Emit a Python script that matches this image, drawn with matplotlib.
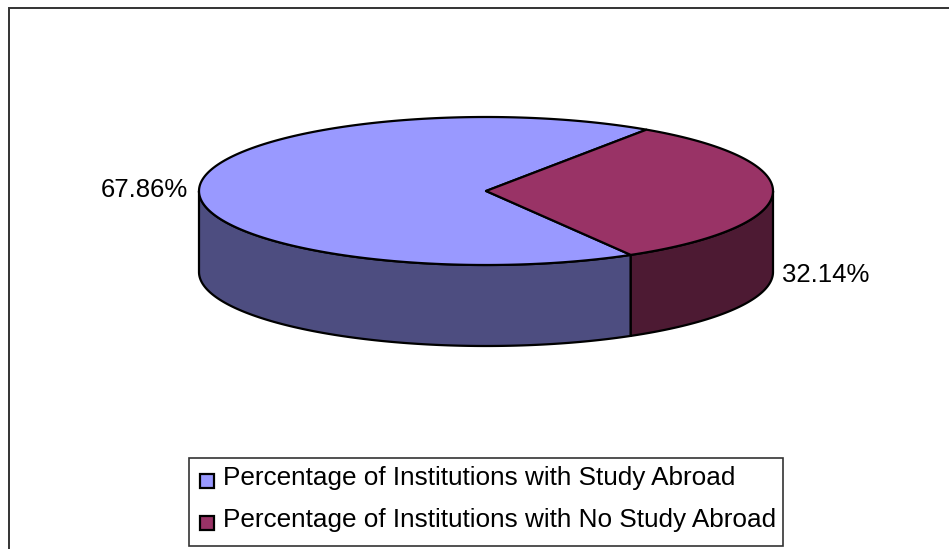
import numpy as np
import matplotlib
matplotlib.use("Agg")
import matplotlib.pyplot as plt
from matplotlib.patches import Rectangle

plt.rcParams['font.family'] = ['Liberation Sans', 'DejaVu Sans']

categories = ["Percentage of Institutions with Study Abroad",
              "Percentage of Institutions with No Study Abroad"]
values = [67.86, 32.14]
value_labels = ["67.86%", "32.14%"]
top_colors = ["#9999ff", "#993366"]
side_colors = ["#4d4d80", "#4d1a33"]

# pie geometry in pixels
cx, cy = 486, 191
rx, ry = 287, 74
depth = 81
start = 56.0  # where the second slice starts, going clockwise


def rim(a0, a1, n=200):
    t = np.radians(np.linspace(a0, a1, n))
    return cx + rx * np.cos(t), cy - ry * np.sin(t)


fig = plt.figure(figsize=(9.49, 5.49), dpi=100)
ax = fig.add_axes([0, 0, 1, 1])
ax.set_xlim(0, 949)
ax.set_ylim(549, 0)
ax.axis("off")

# chart frame, runs off the bottom of the picture
ax.add_patch(Rectangle((9.5, 7.5), 950, 600, fc="white", ec="#333333", lw=1.4))

# slices: angles come from the values
sweep = np.array(values) / sum(values) * 360
a_red0 = start
a_red1 = start - sweep[1]
a_blue0 = a_red1
a_blue1 = a_red1 - sweep[0]

edge = dict(ec="black", lw=1.6, joinstyle="round")

# side walls, only the front half of the rim shows
x, y = rim(a_blue0, -180)
ax.fill(np.r_[x, x[::-1]], np.r_[y, y[::-1] + depth], fc=side_colors[0], **edge)
x, y = rim(a_blue0, 0)
ax.fill(np.r_[x, x[::-1]], np.r_[y, y[::-1] + depth], fc=side_colors[1], **edge)

# top faces
x, y = rim(a_blue0, a_blue1)
ax.fill(np.r_[cx, x], np.r_[cy, y], fc=top_colors[0], **edge)
x, y = rim(a_red1, a_red0)
ax.fill(np.r_[cx, x], np.r_[cy, y], fc=top_colors[1], **edge)

# data labels
ax.text(188, 190, value_labels[0], ha="right", va="center", fontsize=18.5, color="black")
ax.text(782, 275, value_labels[1], ha="left", va="center", fontsize=18.5, color="black")

# legend
ax.add_patch(Rectangle((189.5, 457.5), 594, 88, fc="white", ec="#333333", lw=1.2))
for i, name in enumerate(categories):
    ax.add_patch(Rectangle((200, 473.5 + i * 42), 14, 14, fc=top_colors[i], ec="black", lw=1.6))
    ax.text(223, 478.5 + i * 41.5, name, ha="left", va="center", fontsize=18.8, color="black")

fig.savefig("out.png", dpi=100)
